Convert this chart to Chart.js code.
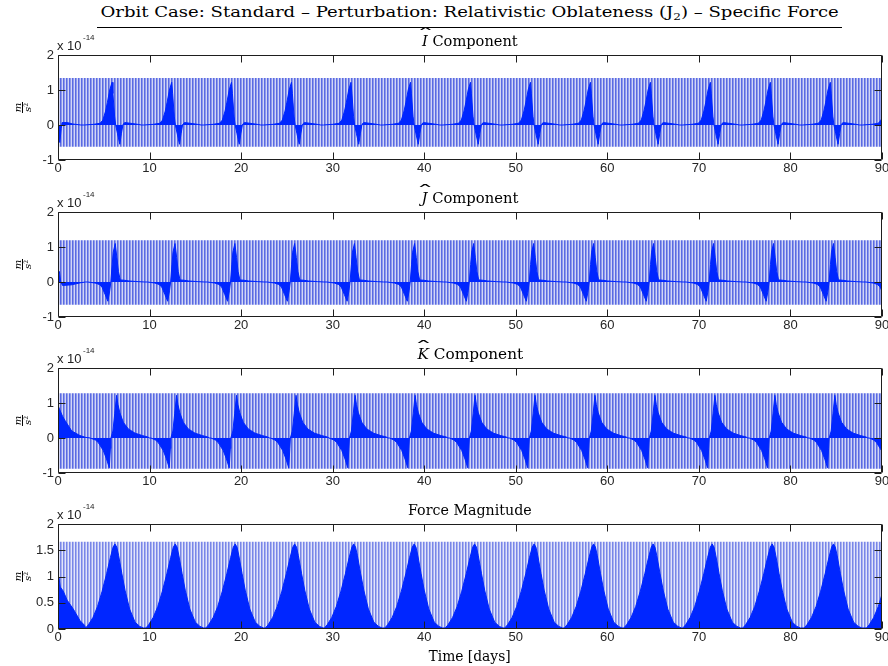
<!DOCTYPE html>
<html><head><meta charset="utf-8">
<script src="https://cdn.jsdelivr.net/npm/chart.js@4/dist/chart.umd.min.js"></script>
<style>
html,body{margin:0;padding:0;background:#fff}
body{width:888px;height:666px;position:relative;overflow:hidden}
canvas.cv{position:absolute;left:0}
.txt{position:absolute;white-space:nowrap;color:#000;line-height:1}
.serif{font-family:'DejaVu Serif',serif}
.hat{position:relative;font-style:italic;display:inline-block}
.hat .h{position:absolute;left:50%;top:-0.5em;font-style:normal;transform:translateX(-45%) scale(2.4,1)}
.ylab{position:absolute;font-family:'DejaVu Serif',serif;font-style:italic;font-size:10px;display:flex;flex-direction:column;align-items:center;line-height:9px}
.ylab .den{border-top:1px solid #000;padding:0 1px}
.ylab sup{font-size:6px;line-height:0;vertical-align:3px;font-style:normal}
.sc{position:absolute;font-family:'Liberation Sans',Arial,sans-serif;color:#222;line-height:1}
</style></head><body>
<script>
// ---------------- data ----------------
const xTicks = [0, 10, 20, 30, 40, 50, 60, 70, 80, 90];
const compTicks = [-1, 0, 1, 2];
const magTicks = [0, 0.5, 1, 1.5, 2];

// oscillation band envelopes [top, bottom] (x 1e-14 m/s^2)
const bandI = [1.34, -0.62];
const bandJ = [1.19, -0.65];
const bandK = [1.28, -0.88];
const bandMag = [1.66, 0];

// I component: initial transient, event times, event profile
const iStartT = [0, 0.05, 0.2, 0.35, 0.45, 1.0, 1.6, 2.5];
const iStartV = [0, -0.35, -0.5, -0.1, 0.07, 0.07, 0.03, 0];
const iPeaks = [5.9, 12.42, 18.95, 25.5, 32.0, 38.5, 45.05, 51.6, 58.15, 64.7, 71.25, 77.8, 84.35, 90.9];
const iShapeDt = [-3.0, -2.0, -1.3, -1.0, -0.7, -0.5, -0.25, 0, 0.1, 0.28, 0.4, 0.6, 0.85, 1.02, 1.2, 1.4, 2.0, 2.8, 3.2];
const iShapeV  = [0, 0.02, 0.05, 0.14, 0.4, 0.65, 1.0, 1.22, 0.9, 0.25, 0, -0.25, -0.55, -0.25, 0.02, 0.07, 0.05, 0.02, 0];

// J component
const jStartT = [0, 0.15, 0.3, 0.5, 1.5, 2.5, 3.0];
const jStartV = [0.25, 0.3, 0, -0.1, -0.08, -0.02, 0];
const jPeaks = [6.25, 12.78, 19.32, 25.85, 32.38, 38.95, 45.4, 51.95, 58.5, 65.05, 71.6, 78.15, 84.7, 91.25];
const jShapeDt = [-3.0, -2.2, -1.75, -1.45, -1.1, -0.8, -0.6, -0.48, -0.33, -0.22, 0, 0.18, 0.35, 0.55, 1.0, 1.5, 2.5, 3.2];
const jShapeV  = [0, -0.03, -0.07, -0.14, -0.36, -0.55, -0.25, 0, 0.5, 0.85, 1.1, 0.7, 0.3, 0.06, 0.05, 0.03, 0.01, 0];

// K component
const kStartT = [0, 0.05, 0.2, 0.5, 0.77, 1.5, 2.4, 3.0, 3.5];
const kStartV = [0.55, 0.9, 0.8, 0.62, 0.5, 0.2, 0.07, 0.02, 0];
const kPeaks = [6.4, 12.95, 19.5, 26.0, 32.45, 39.0, 45.55, 52.1, 58.65, 65.2, 71.75, 78.3, 84.85, 91.4];
const kShapeDt = [-2.8, -2.3, -2.0, -1.45, -1.1, -0.8, -0.68, -0.62, -0.4, -0.2, 0, 0.15, 0.36, 0.73, 1.28, 2.0, 2.8, 3.4, 3.6];
const kShapeV  = [0, -0.06, -0.13, -0.36, -0.6, -0.85, -0.3, 0, 0.2, 0.7, 1.22, 0.95, 0.72, 0.45, 0.26, 0.14, 0.07, 0.03, 0];

// Force magnitude: lower envelope of the oscillation
const mStartT = [0, 0.1, 0.25, 0.58, 1.0, 1.67, 2.4, 2.9];
const mStartV = [0.5, 0.98, 0.8, 0.72, 0.55, 0.38, 0.16, 0.07];
const mPeaks = [6.22, 12.8, 19.35, 25.85, 32.3, 38.9, 45.5, 52.0, 58.5, 65.0, 71.45, 78.0, 84.7, 91.5];
const mShapeDt = [-3.2, -2.9, -2.4, -1.9, -1.4, -0.9, -0.5, -0.2, 0, 0.2, 0.4, 0.75, 1.1, 1.6, 2.2, 2.7, 3.1];
const mShapeV  = [0.02, 0.08, 0.22, 0.43, 0.72, 1.06, 1.36, 1.56, 1.62, 1.56, 1.4, 1.06, 0.74, 0.38, 0.13, 0.05, 0.02];

// ---------------- helpers ----------------
function series(st, sv, peaks, dt, dv) {
  const p = [];
  st.forEach((t, i) => p.push({x: t, y: sv[i]}));
  peaks.forEach(c => dt.forEach((d, i) => p.push({x: +(c + d).toFixed(3), y: dv[i]})));
  p.sort((a, b) => a.x - b.x);
  return p;
}
const BLUE = '#0026ff';
const tickFont = {family: "'Liberation Sans', Arial, sans-serif", size: 13};

const frame = {
  id: 'frame',
  afterDatasetsDraw(ch) {
    const {ctx, chartArea: a, scales: {x, y}} = ch;
    ctx.save();
    ctx.strokeStyle = '#1e1e1e'; ctx.lineWidth = 1;
    const L = Math.round(a.left) + 0.5, R = Math.round(a.right) - 0.5;
    const T = Math.round(a.top) + 0.5, B = Math.round(a.bottom) - 0.5;
    ctx.beginPath();
    ctx.rect(L, T, R - L, B - T);
    xTicks.forEach(v => {
      const px = Math.round(x.getPixelForValue(v)) + 0.5;
      ctx.moveTo(px, B); ctx.lineTo(px, B - 7);
      ctx.moveTo(px, T); ctx.lineTo(px, T + 7);
    });
    y.ticks.forEach(t => {
      const py = Math.round(y.getPixelForValue(t.value)) + 0.5;
      ctx.moveTo(L, py); ctx.lineTo(L + 7, py);
      ctx.moveTo(R, py); ctx.lineTo(R - 7, py);
    });
    ctx.stroke();
    ctx.restore();
  }
};

function stripes(ctx, cols) {
  const c = document.createElement('canvas');
  c.width = cols.length; c.height = 1;
  const g = c.getContext('2d');
  cols.forEach((col, i) => { g.fillStyle = col; g.fillRect(i, 0, 1, 1); });
  return ctx.createPattern(c, 'repeat');
}

const PAD_TOP = 12, AREA_H = 105, XAX_H = 22;
function makePanel(top, yMin, yMax, yTicks, darkPts, band, cols, isMag) {
  const cv = document.createElement('canvas');
  cv.className = 'cv';
  cv.width = 900; cv.height = PAD_TOP + AREA_H + XAX_H;
  cv.style.top = (top - PAD_TOP) + 'px';
  document.body.appendChild(cv);
  const ctx = cv.getContext('2d');
  const pat = stripes(ctx, cols);
  const bandDs = {
    data: [{x: 0, y: band[0]}, {x: 90, y: band[0]}],
    borderWidth: 0, pointRadius: 0, backgroundColor: pat,
    fill: isMag ? 'origin' : {value: band[1]}, order: 1
  };
  const darkDs = {
    data: darkPts, borderColor: BLUE, borderWidth: 1, pointRadius: 0,
    backgroundColor: BLUE, fill: 'origin', order: 0, tension: 0
  };
  new Chart(cv, {
    type: 'line',
    data: {datasets: [darkDs, bandDs]},
    options: {
      responsive: false, animation: false, devicePixelRatio: 1,
      layout: {padding: {left: 0, right: 18, top: PAD_TOP, bottom: 0}},
      plugins: {legend: {display: false}, tooltip: {enabled: false}, title: {display: false}},
      scales: {
        x: {
          type: 'linear', min: 0, max: 90,
          afterBuildTicks: s => { s.ticks = xTicks.map(v => ({value: v})); },
          ticks: {font: tickFont, color: '#262626', padding: 1, maxRotation: 0, autoSkip: false, callback: v => String(v)},
          grid: {display: false, drawTicks: false}, border: {display: false},
          afterFit: s => { s.height = XAX_H; }
        },
        y: {
          type: 'linear', min: yMin, max: yMax,
          afterBuildTicks: s => { s.ticks = yTicks.map(v => ({value: v})); },
          ticks: {font: tickFont, color: '#262626', padding: 4, autoSkip: false, callback: v => String(v)},
          grid: {display: false, drawTicks: false}, border: {display: false},
          afterFit: s => { s.width = 58; }
        }
      }
    },
    plugins: [frame]
  });
}

const colsComp = ['rgb(90,106,226)', 'rgb(142,154,236)', 'rgb(210,214,246)'];
const colsMag = ['rgb(120,134,232)', 'rgb(170,178,240)', 'rgb(226,229,250)'];
const tops = [55, 212, 368, 524];

makePanel(tops[0], -1, 2, compTicks, series(iStartT, iStartV, iPeaks, iShapeDt, iShapeV), bandI, colsComp, false);
makePanel(tops[1], -1, 2, compTicks, series(jStartT, jStartV, jPeaks, jShapeDt, jShapeV), bandJ, colsComp, false);
makePanel(tops[2], -1, 2, compTicks, series(kStartT, kStartV, kPeaks, kShapeDt, kShapeV), bandK, colsComp, false);
makePanel(tops[3], 0, 2, magTicks, series(mStartT, mStartV, mPeaks, mShapeDt, mShapeV), bandMag, colsMag, true);

// ---------------- texts ----------------
function put(html, cls, size, cx, cy, w) {
  const d = document.createElement('div');
  d.className = 'txt ' + cls;
  d.style.fontSize = size + 'px';
  d.innerHTML = html;
  document.body.appendChild(d);
  const bw = d.offsetWidth, bh = d.offsetHeight;
  d.style.left = (cx - bw / 2) + 'px';
  d.style.top = (cy - bh / 2) + 'px';
  if (w) d.style.transform = 'scaleX(' + (w / bw) + ')';
  return d;
}
put('Orbit Case: Standard – Perturbation: Relativistic Oblateness (J<sub style="font-size:10px;line-height:0;vertical-align:-3px">2</sub>) – Specific Force', 'serif', 15, 469, 12.5, 738);
const ul = document.createElement('div');
ul.style.cssText = 'position:absolute;left:97px;top:27px;width:745px;height:1px;background:#000';
document.body.appendChild(ul);

const hat = s => '<span class="hat">' + s + '<span class="h">ˆ</span></span>';
const subT = [hat('I') + ' Component', hat('J') + ' Component', hat('K') + ' Component', 'Force Magnitude'];
const subW = [96, 97, 106, 124];
subT.forEach((t, i) => put(t, 'serif', 14, 470, tops[i] - 14, subW[i]));
put('Time [days]', 'serif', 14, 469, 656, 82);

// exponent labels and y-axis unit labels
tops.forEach(T => {
  const a = document.createElement('div');
  a.className = 'sc'; a.style.fontSize = '13px';
  a.style.left = '57px'; a.style.top = (T - 16) + 'px';
  a.textContent = 'x 10';
  document.body.appendChild(a);
  const b = document.createElement('div');
  b.className = 'sc'; b.style.fontSize = '8px';
  b.style.left = '83px'; b.style.top = (T - 21) + 'px';
  b.textContent = '-14';
  document.body.appendChild(b);

  const y = document.createElement('div');
  y.className = 'ylab';
  y.innerHTML = '<span>m</span><span class="den">s<sup>2</sup></span>';
  document.body.appendChild(y);
  const w = y.offsetWidth, h = y.offsetHeight;
  y.style.left = (22 - w / 2) + 'px';
  y.style.top = (T + AREA_H / 2 - h / 2) + 'px';
  y.style.transform = 'rotate(-90deg)';
});
</script>
</body></html>
